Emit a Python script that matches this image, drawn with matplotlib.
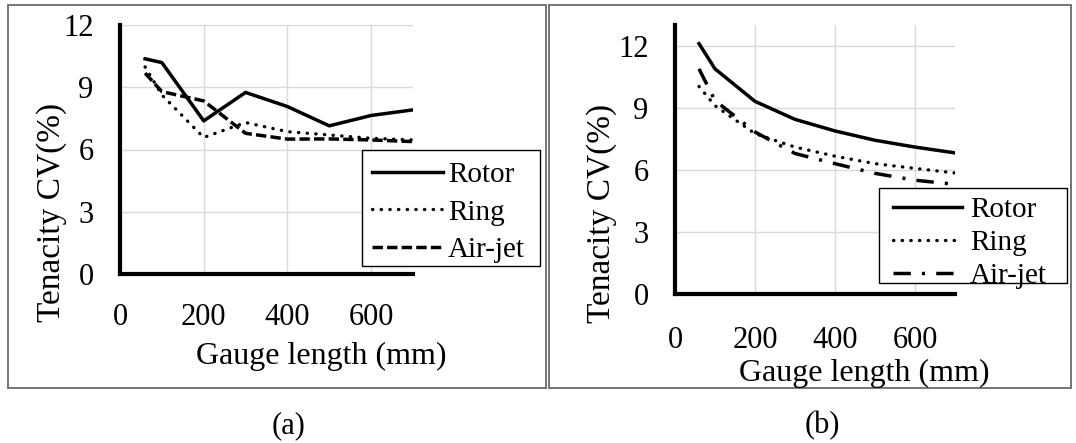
import matplotlib
matplotlib.use("Agg")
import matplotlib.pyplot as plt
from matplotlib.patches import Rectangle

plt.rcParams['font.family'] = ['Liberation Serif', 'DejaVu Serif']

# ---- data ----
gauge = [60, 100, 200, 300, 400, 500, 600, 700]
xticks = [0, 200, 400, 600]
yticks = [0, 3, 6, 9, 12]
series_names = ["Rotor", "Ring", "Air-jet"]

rotor_a = [10.37, 10.19, 7.38, 8.75, 8.07, 7.14, 7.64, 7.91]
ring_a = [9.98, 8.63, 6.58, 7.30, 6.86, 6.70, 6.54, 6.46]
airjet_a = [9.68, 8.79, 8.34, 6.78, 6.50, 6.51, 6.46, 6.38]

rotor_b = [12.10, 10.88, 9.31, 8.44, 7.88, 7.43, 7.10, 6.82]
ring_b = [10.03, 9.10, 7.75, 7.10, 6.66, 6.30, 6.07, 5.85]
airjet_b = [10.88, 9.35, 7.83, 6.79, 6.30, 5.83, 5.50, 5.30]

W, H = 1076, 443
fig = plt.figure(figsize=(W / 100, H / 100), dpi=100)

def fx(px):
    return px / W

def fy(py):
    return 1 - py / H

FS = 22
LW = 2.5

styles_a = [dict(ls='-', lw=LW, color='black'),
            dict(ls=(0, (0.1, 2.5)), lw=2.4, color='black', dash_capstyle='round'),
            dict(ls=(0, (3.0, 1.2)), lw=LW, color='black')]
styles_b = [dict(ls='-', lw=LW, color='black'),
            dict(ls=(0, (0.1, 2.5)), lw=2.4, color='black', dash_capstyle='round'),
            dict(ls=(0, (5, 3.2, 0.9, 3.2)), lw=LW, color='black')]


def make_panel(rect_px, ylim_top, data, styles, box_px, leg_anchor_px, leg_fs,
               leg_ls, hl, htp, tick_pad_x):
    l, r, t, b = rect_px
    ax = fig.add_axes([fx(l), fy(b), fx(r - l), (b - t) / H])
    for vals, st, name in zip(data, styles, series_names):
        ax.plot(gauge, vals, label=name, **st)
    ax.set_xlim(0, 700)
    ax.set_ylim(0, ylim_top)
    ax.set_xticks(xticks)
    ax.set_yticks(yticks)
    ax.grid(True, color='#d9d9d9', lw=1)
    ax.set_axisbelow(True)
    for s in ['top', 'right']:
        ax.spines[s].set_visible(False)
    for s in ['left', 'bottom']:
        ax.spines[s].set_linewidth(3.0)
        ax.spines[s].set_color('black')
    ax.tick_params(axis='both', length=0, labelsize=FS)
    ax.tick_params(axis='y', pad=19)
    ax.tick_params(axis='x', pad=tick_pad_x)
    # legend box (white with black edge)
    bx0, bx1, by0, by1 = box_px
    box = Rectangle((fx(bx0), fy(by1)), fx(bx1 - bx0), (by1 - by0) / H,
                    transform=fig.transFigure, facecolor='white', edgecolor='black',
                    lw=1.0, zorder=4, clip_on=False)
    ax.add_patch(box)
    leg = ax.legend(loc='upper left', bbox_to_anchor=(fx(leg_anchor_px[0]), fy(leg_anchor_px[1])),
                    bbox_transform=fig.transFigure, fontsize=leg_fs, frameon=False,
                    borderaxespad=0, borderpad=0, handlelength=hl,
                    handletextpad=htp, labelspacing=leg_ls)
    leg.set_zorder(6)
    return ax

ax1 = make_panel((120, 413, 25, 274), 12, [rotor_a, ring_a, airjet_a], styles_a,
                 (362, 540, 150, 266), (372, 162), 21, 0.37, 2.42, 0.19, 21)
ax2 = make_panel((675, 955, 25, 294), 13, [rotor_b, ring_b, airjet_b], styles_b,
                 (879, 1067, 188, 283), (893, 197), 21, 0.22, 2.36, 0.27, 23)

# axis titles
fig.text(fx(321), fy(356), "Gauge length (mm)", fontsize=23, ha='center', va='center')
fig.text(fx(864), fy(373), "Gauge length (mm)", fontsize=23, ha='center', va='center')
fig.text(fx(52), fy(212), "Tenacity CV(%)", fontsize=24, ha='center', va='center', rotation=90)
fig.text(fx(602), fy(213), "Tenacity CV(%)", fontsize=24, ha='center', va='center', rotation=90)

# captions
fig.text(fx(289), fy(426), "(a)", fontsize=FS, ha='center', va='center')
fig.text(fx(822), fy(426), "(b)", fontsize=FS, ha='center', va='center')

# panel borders
for (x0, x1) in [(8, 546), (549, 1071)]:
    fig.patches.append(Rectangle((fx(x0), fy(388)), fx(x1 - x0), (388 - 5) / H,
                                 transform=fig.transFigure, fill=False,
                                 edgecolor='#6a6a6a', lw=1.3))

fig.savefig("out.png", dpi=100)
